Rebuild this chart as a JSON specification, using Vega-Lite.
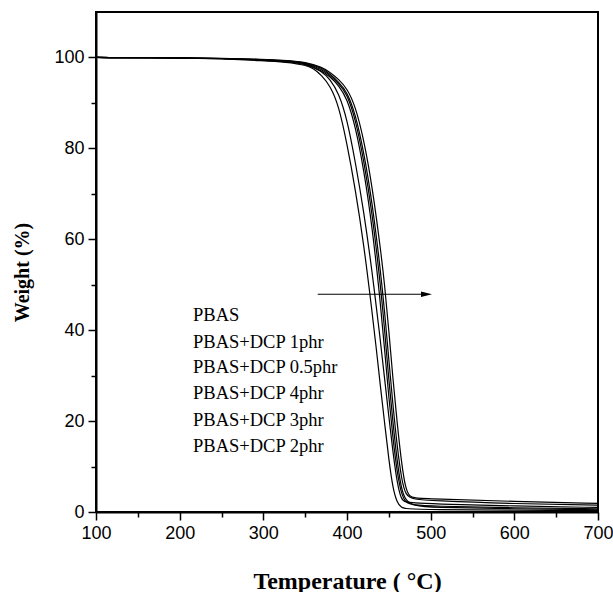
{
  "$schema": "https://vega.github.io/schema/vega-lite/v6.json",
  "width": 502,
  "height": 500,
  "autosize": "none",
  "padding": {"left": 96, "top": 12, "right": 15, "bottom": 80},
  "background": "white",
  "config": {
    "view": {"stroke": "black", "strokeWidth": 2},
    "axis": {
      "grid": false,
      "domainColor": "black",
      "domainWidth": 2,
      "tickColor": "black",
      "tickWidth": 1.5,
      "labelFont": "Liberation Sans",
      "labelFontSize": 18,
      "labelColor": "black",
      "labelFlush": false,
      "titleFont": "Liberation Serif",
      "titleFontWeight": "bold",
      "titleColor": "black"
    }
  },
  "datasets": {
    "curves": [
      {"s":"PBAS","t":100,"w":100},{"s":"PBAS","t":200,"w":99.9},{"s":"PBAS","t":250,"w":99.7},{"s":"PBAS","t":300,"w":99.3},{"s":"PBAS","t":330,"w":98.9},{"s":"PBAS","t":340,"w":98.6},{"s":"PBAS","t":350,"w":98.3},{"s":"PBAS","t":360,"w":97.6},{"s":"PBAS","t":370,"w":96},{"s":"PBAS","t":380,"w":93.7},{"s":"PBAS","t":390,"w":89.5},{"s":"PBAS","t":400,"w":81},{"s":"PBAS","t":410,"w":71},{"s":"PBAS","t":420,"w":59},{"s":"PBAS","t":430,"w":44},{"s":"PBAS","t":435,"w":36},{"s":"PBAS","t":440,"w":27.5},{"s":"PBAS","t":445,"w":19.5},{"s":"PBAS","t":450,"w":11.5},{"s":"PBAS","t":455,"w":5},{"s":"PBAS","t":460,"w":2},{"s":"PBAS","t":465,"w":1},{"s":"PBAS","t":470,"w":0.7},{"s":"PBAS","t":500,"w":0.5},{"s":"PBAS","t":600,"w":0.4},{"s":"PBAS","t":700,"w":0.3},
      {"s":"1phr","t":100,"w":100},{"s":"1phr","t":200,"w":99.9},{"s":"1phr","t":250,"w":99.75},{"s":"1phr","t":300,"w":99.4},{"s":"1phr","t":330,"w":99},{"s":"1phr","t":350,"w":98.6},{"s":"1phr","t":370,"w":97},{"s":"1phr","t":380,"w":95.1},{"s":"1phr","t":390,"w":92.2},{"s":"1phr","t":400,"w":86.5},{"s":"1phr","t":410,"w":77},{"s":"1phr","t":420,"w":66.2},{"s":"1phr","t":430,"w":53},{"s":"1phr","t":440,"w":37.6},{"s":"1phr","t":445,"w":29.2},{"s":"1phr","t":450,"w":21},{"s":"1phr","t":455,"w":13},{"s":"1phr","t":460,"w":6.3},{"s":"1phr","t":465,"w":2.6},{"s":"1phr","t":470,"w":2.2},{"s":"1phr","t":480,"w":2},{"s":"1phr","t":500,"w":1.8},{"s":"1phr","t":600,"w":1.3},{"s":"1phr","t":700,"w":1.0},
      {"s":"0.5phr","t":100,"w":100},{"s":"0.5phr","t":200,"w":99.9},{"s":"0.5phr","t":250,"w":99.8},{"s":"0.5phr","t":300,"w":99.5},{"s":"0.5phr","t":330,"w":99.2},{"s":"0.5phr","t":350,"w":98.7},{"s":"0.5phr","t":370,"w":97.1},{"s":"0.5phr","t":380,"w":95.7},{"s":"0.5phr","t":390,"w":93.9},{"s":"0.5phr","t":400,"w":91},{"s":"0.5phr","t":410,"w":84.9},{"s":"0.5phr","t":420,"w":75.4},{"s":"0.5phr","t":430,"w":63},{"s":"0.5phr","t":440,"w":46},{"s":"0.5phr","t":445,"w":35.6},{"s":"0.5phr","t":450,"w":25.2},{"s":"0.5phr","t":455,"w":16},{"s":"0.5phr","t":460,"w":8.6},{"s":"0.5phr","t":465,"w":4},{"s":"0.5phr","t":470,"w":2},{"s":"0.5phr","t":480,"w":1.5},{"s":"0.5phr","t":500,"w":1.3},{"s":"0.5phr","t":600,"w":0.9},{"s":"0.5phr","t":700,"w":0.7},
      {"s":"4phr","t":100,"w":100},{"s":"4phr","t":200,"w":99.9},{"s":"4phr","t":250,"w":99.8},{"s":"4phr","t":300,"w":99.5},{"s":"4phr","t":330,"w":99.2},{"s":"4phr","t":350,"w":98.8},{"s":"4phr","t":370,"w":97.4},{"s":"4phr","t":380,"w":96},{"s":"4phr","t":390,"w":94.3},{"s":"4phr","t":400,"w":92},{"s":"4phr","t":410,"w":86.5},{"s":"4phr","t":420,"w":77.5},{"s":"4phr","t":430,"w":66},{"s":"4phr","t":440,"w":50},{"s":"4phr","t":445,"w":40},{"s":"4phr","t":450,"w":29},{"s":"4phr","t":455,"w":19.5},{"s":"4phr","t":460,"w":11},{"s":"4phr","t":465,"w":5},{"s":"4phr","t":470,"w":2.5},{"s":"4phr","t":480,"w":1.4},{"s":"4phr","t":500,"w":1},{"s":"4phr","t":600,"w":0.7},{"s":"4phr","t":700,"w":0.5},
      {"s":"3phr","t":100,"w":100},{"s":"3phr","t":200,"w":99.9},{"s":"3phr","t":250,"w":99.8},{"s":"3phr","t":300,"w":99.55},{"s":"3phr","t":330,"w":99.25},{"s":"3phr","t":350,"w":98.9},{"s":"3phr","t":370,"w":97.7},{"s":"3phr","t":380,"w":96.3},{"s":"3phr","t":390,"w":94.6},{"s":"3phr","t":400,"w":92.5},{"s":"3phr","t":410,"w":87.6},{"s":"3phr","t":420,"w":79.3},{"s":"3phr","t":430,"w":68.3},{"s":"3phr","t":440,"w":53.2},{"s":"3phr","t":445,"w":44},{"s":"3phr","t":450,"w":33.4},{"s":"3phr","t":455,"w":23.3},{"s":"3phr","t":460,"w":14.4},{"s":"3phr","t":465,"w":7.4},{"s":"3phr","t":470,"w":3.5},{"s":"3phr","t":480,"w":2.8},{"s":"3phr","t":500,"w":2.5},{"s":"3phr","t":600,"w":1.8},{"s":"3phr","t":700,"w":1.5},
      {"s":"2phr","t":100,"w":100},{"s":"2phr","t":200,"w":99.9},{"s":"2phr","t":250,"w":99.8},{"s":"2phr","t":300,"w":99.6},{"s":"2phr","t":330,"w":99.3},{"s":"2phr","t":350,"w":99},{"s":"2phr","t":370,"w":97.9},{"s":"2phr","t":380,"w":96.7},{"s":"2phr","t":390,"w":95.2},{"s":"2phr","t":400,"w":93.2},{"s":"2phr","t":410,"w":89.3},{"s":"2phr","t":420,"w":82},{"s":"2phr","t":430,"w":71.8},{"s":"2phr","t":440,"w":58},{"s":"2phr","t":445,"w":50},{"s":"2phr","t":450,"w":40},{"s":"2phr","t":455,"w":29},{"s":"2phr","t":460,"w":19.5},{"s":"2phr","t":465,"w":11},{"s":"2phr","t":470,"w":5},{"s":"2phr","t":475,"w":3.4},{"s":"2phr","t":480,"w":3.1},{"s":"2phr","t":500,"w":2.9},{"s":"2phr","t":600,"w":2.3},{"s":"2phr","t":700,"w":1.9}
    ],
    "labels": [
      {"label":"PBAS","t":216,"w":43.3},
      {"label":"PBAS+DCP 1phr","t":216,"w":37.5},
      {"label":"PBAS+DCP 0.5phr","t":216,"w":31.8},
      {"label":"PBAS+DCP 4phr","t":216,"w":26.1},
      {"label":"PBAS+DCP 3phr","t":216,"w":20.2},
      {"label":"PBAS+DCP 2phr","t":216,"w":14.5}
    ],
    "arrow": [
      {"t":365,"t2":492,"w":47.9,"head":495}
    ]
  },
  "layer": [
    {
      "data": {"name": "curves"},
      "mark": {"type": "line", "color": "black", "strokeWidth": 1.2, "interpolate": "basis", "clip": true},
      "encoding": {
        "x": {
          "field": "t", "type": "quantitative",
          "scale": {"domain": [100, 700], "nice": false, "zero": false},
          "axis": {
            "title": "Temperature ( °C)",
            "titleFontSize": 24,
            "values": [100,150,200,250,300,350,400,450,500,550,600,650,700],
            "labelExpr": "datum.value % 100 === 0 ? datum.label : ''",
            "labelOverlap": false,
            "tickSize": {"condition": {"test": "datum.value % 100 !== 0", "value": 5}, "value": 8},
            "labelPadding": 4,
            "titleY": 76,
            "titleBaseline": "alphabetic"
          }
        },
        "y": {
          "field": "w", "type": "quantitative",
          "scale": {"domain": [0, 110], "nice": false},
          "axis": {
            "title": "Weight (%)",
            "titleFontSize": 20,
            "values": [0,10,20,30,40,50,60,70,80,90,100],
            "labelExpr": "datum.value % 20 === 0 ? datum.label : ''",
            "labelOverlap": false,
            "tickSize": {"condition": {"test": "datum.value % 20 !== 0", "value": 5}, "value": 8},
            "labelPadding": 4,
            "titleX": -74,
            "titleY": 260,
            "titleAngle": -90,
            "titleAlign": "center",
            "titleBaseline": "middle"
          }
        },
        "detail": {"field": "s"}
      }
    },
    {
      "data": {"name": "labels"},
      "mark": {"type": "text", "align": "left", "baseline": "middle", "font": "Liberation Serif", "fontSize": 18.5, "color": "black"},
      "encoding": {
        "x": {"field": "t", "type": "quantitative"},
        "y": {"field": "w", "type": "quantitative"},
        "text": {"field": "label"}
      }
    },
    {
      "data": {"name": "arrow"},
      "mark": {"type": "rule", "color": "black", "strokeWidth": 1.2},
      "encoding": {
        "x": {"field": "t", "type": "quantitative"},
        "x2": {"field": "t2"},
        "y": {"field": "w", "type": "quantitative"}
      }
    },
    {
      "data": {"name": "arrow"},
      "mark": {"type": "point", "shape": "M-1,-0.5L1,0L-1,0.5Z", "filled": true, "color": "black", "opacity": 1, "size": 121},
      "encoding": {
        "x": {"field": "head", "type": "quantitative"},
        "y": {"field": "w", "type": "quantitative"}
      }
    }
  ]
}
